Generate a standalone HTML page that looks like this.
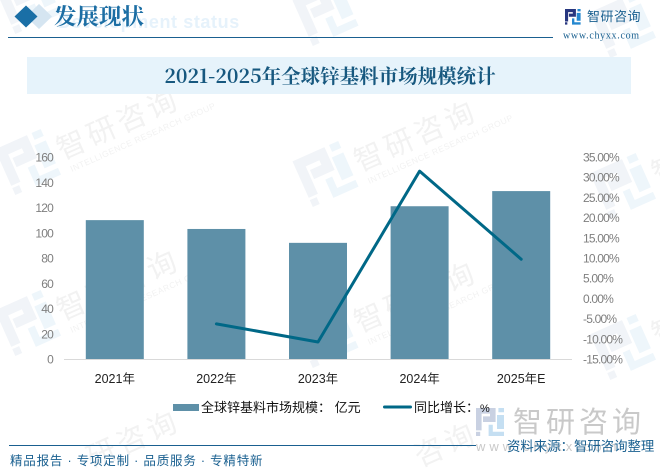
<!DOCTYPE html>
<html lang="zh">
<head>
<meta charset="utf-8">
<title>2021-2025年全球锌基料市场规模统计</title>
<style>
html,body{margin:0;padding:0;background:#fff;}
body{width:660px;height:472px;overflow:hidden;position:relative;}
svg{position:absolute;left:0;top:0;display:block;}
.cjk{font-family:"Liberation Sans","Noto Sans CJK SC",sans-serif;}
.serif{font-family:"Liberation Serif","Noto Serif CJK SC",serif;}
.title{font-family:"Noto Serif CJK SC","Liberation Serif",serif;}
.tick{font-family:"Liberation Sans",sans-serif;font-size:12px;letter-spacing:-0.8px;fill:#7f7f7f;}
</style>
</head>
<body>
<svg id="root" width="660" height="472" viewBox="0 0 660 472" xmlns="http://www.w3.org/2000/svg">
  <defs>
    <g id="logo-a">
      <path d="M0 0H14V10H5V6H10V4H4V16H0Z"/>
      <rect x="0" y="17" width="3" height="3"/>
    </g>
    <g id="logo-b">
      <path d="M16 0H20V3H16Z M9 12H12V17H20V20H9Z M15 5H20V15H15Z"/>
    </g>
  </defs>

  <g id="watermarks"></g>

  <text x="58" y="28" font-family="Liberation Sans, sans-serif" font-weight="700" font-size="18" letter-spacing="0.6" fill="#e6f2fb">Development status</text>
  <path d="M39 4L52 16.500L39 29L26 16.500Z" fill="#d5e5f1"/>
  <path d="M26 5.500L37.500 16.500L26 27.500L14.500 16.500Z" fill="#1a6fa6"/>
  <text x="54" y="24.500" class="serif" font-weight="700" font-size="22.500" fill="#1c6ea4">发展现状</text>
  <rect x="8" y="37" width="545" height="1" fill="#1a6090"/>

  <g transform="translate(565,9) scale(0.78)">
    <use href="#logo-a" fill="#27367f"/>
    <use href="#logo-b" fill="#2487cf"/>
  </g>
  <text x="587" y="21" class="cjk" font-size="13" letter-spacing="0.5" fill="#1a6090">智研咨询</text>
  <text x="563" y="38.500" class="serif" font-size="10" letter-spacing="0.7" fill="#1a6090">www.chyxx.com</text>

  <rect x="27" y="57" width="604" height="37" fill="#e6f3fb"/>
  <text x="330" y="83" text-anchor="middle" class="title" font-weight="700" font-size="19.500" fill="#17587f">2021-2025年全球锌基料市场规模统计</text>

  <g transform="translate(476,408) scale(1.4)">
    <use href="#logo-a" fill="#c9d1e2"/>
    <use href="#logo-b" fill="#c5dff2"/>
  </g>
  <text x="513" y="432" class="cjk" font-size="29" letter-spacing="4" fill="#c9c9c9">智研咨询</text>
  <text x="476" y="451" font-family="Liberation Sans, sans-serif" font-size="13" letter-spacing="4" fill="#c9c9c9">www.chyxx.com</text>

  <g id="plot"></g>

  <rect x="173" y="404" width="26" height="7" fill="#5e90a8"/>
  <text x="201" y="412" class="cjk" font-size="13" fill="#111">全球锌基料市场规模： 亿元</text>
  <rect x="383" y="405.500" width="29" height="3" rx="1.500" fill="#006887"/>
  <text x="414" y="412" class="cjk" font-size="13" fill="#111">同比增长：</text>
  <text x="480" y="412" class="cjk" font-size="11" fill="#111">%</text>

  <rect x="9" y="445" width="467" height="1" fill="#1a6090"/>
  <text x="10" y="465" class="cjk" font-size="12.500" letter-spacing="0.8" fill="#1a6090">精品报告 · 专项定制 · 品质服务 · 专精特新</text>
  <text x="507" y="451" class="cjk" font-size="13.400" fill="#1a6090">资料来源：智研咨询整理</text>
</svg>

<script>
const categories = ['2021年', '2022年', '2023年', '2024年', '2025年E'];
const marketSize = [110, 103, 92, 121, 133];
const growthRate = [null, -6.3, -10.8, 31.5, 9.7];
const leftTicks = [0, 20, 40, 60, 80, 100, 120, 140, 160];
const rightTicks = [-15, -10, -5, 0, 5, 10, 15, 20, 25, 30, 35];

const NS = 'http://www.w3.org/2000/svg';
const plot = document.getElementById('plot');
const marks = document.getElementById('watermarks');
const plotLeft = 64, plotRight = 572, plotTop = 157, plotBottom = 359, barWidth = 58;

function xScale(i) {
  return plotLeft + (plotRight - plotLeft) * (i + 0.5) / categories.length;
}
function yLeft(v) {
  return plotBottom - (v - leftTicks[0]) / (leftTicks[leftTicks.length - 1] - leftTicks[0]) * (plotBottom - plotTop);
}
function yRight(v) {
  return plotBottom - (v - rightTicks[0]) / (rightTicks[rightTicks.length - 1] - rightTicks[0]) * (plotBottom - plotTop);
}
function make(tag, attrs, parent) {
  const el = document.createElementNS(NS, tag);
  for (const k in attrs) el.setAttribute(k, attrs[k]);
  parent.appendChild(el);
  return el;
}

/* bars */
marketSize.forEach(function (v, i) {
  const bar = make('rect', { x: xScale(i) - barWidth / 2, y: yLeft(v), width: barWidth, height: plotBottom - yLeft(v), fill: '#5e90a8' }, plot);
  
  
});

/* baseline */
const baseline = make('line', { x1: plotLeft, x2: plotRight, y1: plotBottom + 0.5, y2: plotBottom + 0.5, stroke: '#d9d9d9', 'stroke-width': 1 }, plot);



/* growth line */
const pts = [];
growthRate.forEach(function (v, i) {
  if (v !== null) pts.push(xScale(i) + ',' + yRight(v));
});
const line = make('polyline', { points: pts.join(' '), fill: 'none', stroke: '#006887', 'stroke-width': 3, 'stroke-linecap': 'round', 'stroke-linejoin': 'round' }, plot);



/* left axis */
leftTicks.forEach(function (v) {
  const t = make('text', { x: 53, y: yLeft(v) + 4.5, 'text-anchor': 'end', class: 'tick' }, plot);
  t.textContent = String(v);
  
  
});

/* right axis */
rightTicks.forEach(function (v) {
  const t = make('text', { x: 583, y: yRight(v) + 4.5, class: 'tick' }, plot);
  t.textContent = v.toFixed(2) + '%';
  
  
});

/* category labels */
categories.forEach(function (c, i) {
  const t = make('text', { x: xScale(i), y: 383, 'text-anchor': 'middle', class: 'cjk', 'font-size': 12.5, fill: '#222' }, plot);
  t.textContent = c;
  
  
});

/* repeating background watermark; only the parts that fall inside the frame are drawn */
const brandChars = ['智', '研', '咨', '询'];
const columns = [0, 1, 2];
const rows = [0, 1, 2, 3];
columns.forEach(function (c) {
  rows.forEach(function (r) {
    const ox = 28 + c * 297.5;
    const oy = 1 + r * 161 + c * 12;
    const g = make('g', { transform: 'translate(' + ox + ',' + oy + ') rotate(-24)' }, marks);
    
    
    if (r < 3) {
      const icon = make('g', { transform: 'translate(-25,-25) scale(2.5)' }, g);
      make('use', { href: '#logo-a', fill: '#f1f4f8' }, icon);
      make('use', { href: '#logo-b', fill: '#eef6fb' }, icon);
    }
    if (r === 0) return;
    const first = r === 3 ? c + 1 : 0;
    const last = c === 2 ? 1 : 4;
    brandChars.slice(first, last).forEach(function (ch, k) {
      const letter = make('text', { x: 32 + (first + k) * 33, y: 12, class: 'cjk', 'font-size': 29, fill: '#f2f2f2' }, g);
      letter.textContent = ch;
      
      
    });
    if (r < 3 && c < 2) {
      const sub = make('text', { x: 36, y: 27, 'font-family': 'Liberation Sans, sans-serif', 'font-size': 8.5, 'letter-spacing': 0.5, fill: '#f2f2f2' }, g);
      sub.textContent = 'INTELLIGENCE RESEARCH GROUP';
      
      
    }
  });
});
</script>
</body>
</html>
